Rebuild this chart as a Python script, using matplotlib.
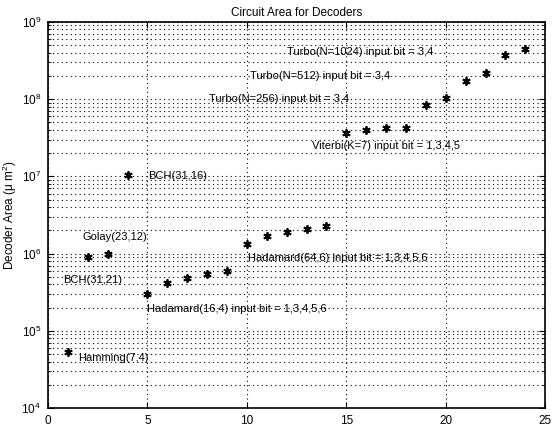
import numpy as np
import matplotlib
matplotlib.use("Agg")
import matplotlib.pyplot as plt

plt.rcParams['font.family'] = ['Liberation Sans', 'DejaVu Sans']
plt.rcParams['mathtext.default'] = 'regular'

# decoder index and area (um^2)
idx = np.arange(1, 25)
area = [5.36e4, 9.1e5, 9.9e5, 1.04e7, 2.97e5, 4.2e5, 4.79e5, 5.4e5, 5.95e5,
        1.33e6, 1.71e6, 1.92e6, 2.08e6, 2.28e6,
        3.68e7, 3.99e7, 4.2e7, 4.2e7,
        8.42e7, 1.03e8, 1.74e8, 2.16e8, 3.74e8, 4.47e8]

# annotations: text, x, y
labels = ["Turbo(N=1024) input bit = 3,4",
          "Turbo(N=512) input bit = 3,4",
          "Turbo(N=256) input bit = 3,4",
          "Viterbi(K=7) input bit = 1,3,4,5",
          "BCH(31,16)",
          "Golay(23,12)",
          "BCH(31,21)",
          "Hadamard(64,6) input bit = 1,3,4,5,6",
          "Hadamard(16,4) input bit = 1,3,4,5,6",
          "Hamming(7,4)"]
label_x = [12.0, 10.15, 8.1, 13.27, 5.05, 1.76, 0.75, 10.05, 5.0, 1.5]
label_y = [4.1e8, 2.0e8, 1.0e8, 2.45e7, 1.0e7, 1.64e6, 4.6e5, 8.7e5, 1.9e5, 4.5e4]

fig = plt.figure(figsize=(5.58, 4.28), dpi=100)
ax = fig.add_axes([0.086, 0.0467, 0.891, 0.902])

ax.semilogy(idx, area, linestyle='none', marker=(6, 2, 0), color='black',
            markersize=6, markeredgewidth=1.3)

for t, x, y in zip(labels, label_x, label_y):
    ax.text(x, y, t, fontsize=8, ha='left', va='center')

dots = (0, (1, 3))
ax.set_xlim(0, 25)
ax.set_ylim(1e4, 1e9)
ax.set_xticks([0, 5, 10, 15, 20, 25])
ax.grid(True, which='major', axis='x', linestyle=dots, color='black', linewidth=0.8)
ax.grid(True, which='both', axis='y', linestyle=dots, color='black', linewidth=0.8)
ax.tick_params(which='both', direction='in', top=True, right=True, labelsize=8.5)
ax.tick_params(which='major', length=4, pad=5)
ax.tick_params(which='minor', length=2)
for s in ax.spines.values():
    s.set_linewidth(1.2)

ax.set_title("Circuit Area for Decoders", fontsize=8.5, pad=4)
ax.set_ylabel("Decoder Area (μ m$^2$)", fontsize=8.5, labelpad=2)

fig.savefig("out.png", dpi=100)
